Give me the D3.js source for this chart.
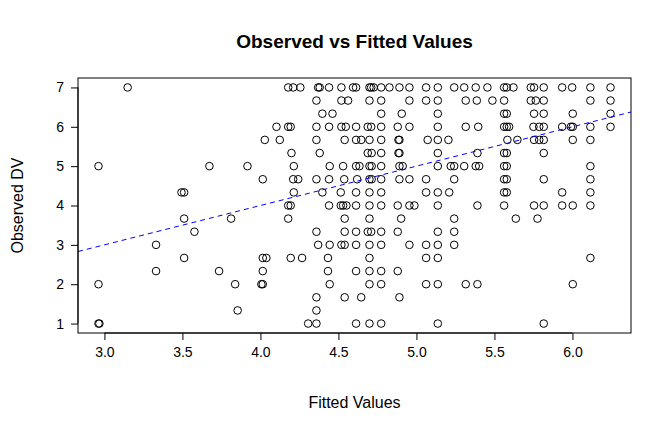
<!DOCTYPE html>
<html>
<head>
<meta charset="utf-8">
<script src="https://cdn.jsdelivr.net/npm/d3@7"></script>
<style>
  html, body { margin: 0; padding: 0; background: #fff; }
  svg { display: block; }
  text { font-family: "Liberation Sans", Arial, Helvetica, sans-serif; fill: #000; }
</style>
</head>
<body>
<script>
// ---------- data ----------
const title = "Observed vs Fitted Values";
const xLabel = "Fitted Values";
const yLabel = "Observed DV";
const xTicks = [3.0, 3.5, 4.0, 4.5, 5.0, 5.5, 6.0];
const yTicks = [1, 2, 3, 4, 5, 6, 7];
const refIntercept = 0;   // abline(0, 1)
const refSlope = 1;

// observed DV levels (thirds) and the fitted values of points at each level
const observedLevels = [7, 6.667, 6.333, 6, 5.667, 5.333, 5, 4.667, 4.333, 4, 3.667, 3.333, 3, 2.667, 2.333, 2, 1.667, 1.333, 1];
const fittedByLevel = [
  // 7
  [3.149, 4.178, 4.210, 4.256, 4.370, 4.380, 4.440, 4.519, 4.594, 4.613, 4.699, 4.710, 4.726, 4.774, 4.827, 4.891, 4.955, 5.062, 5.137, 5.242, 5.306, 5.380, 5.455, 5.562, 5.579, 5.622, 5.733, 5.754, 5.816, 5.934, 5.998, 6.115, 6.244],
  // 6.667
  [4.359, 4.519, 4.562, 4.699, 4.774, 4.955, 5.062, 5.137, 5.316, 5.387, 5.487, 5.562, 5.733, 5.765, 5.816, 6.115, 6.244],
  // 6.333
  [4.397, 4.462, 4.774, 4.906, 5.137, 5.562, 5.579, 5.754, 5.816, 6.002, 6.244],
  // 6
  [4.103, 4.178, 4.194, 4.359, 4.440, 4.519, 4.547, 4.613, 4.688, 4.710, 4.774, 4.880, 4.955, 5.137, 5.316, 5.396, 5.562, 5.579, 5.594, 5.750, 5.787, 5.816, 5.934, 5.990, 6.002, 6.115, 6.244],
  // 5.667
  [4.028, 4.124, 4.359, 4.540, 4.613, 4.646, 4.699, 4.774, 4.885, 4.891, 5.072, 5.137, 5.205, 5.583, 5.647, 5.754, 5.787, 5.816, 6.002, 6.115],
  // 5.333
  [4.199, 4.380, 4.688, 4.713, 4.774, 4.885, 4.891, 5.137, 5.391, 5.562, 5.579, 5.816],
  // 5
  [2.962, 3.673, 3.917, 4.214, 4.444, 4.530, 4.613, 4.635, 4.699, 4.713, 4.774, 4.891, 4.912, 5.137, 5.220, 5.242, 5.306, 5.380, 5.402, 5.562, 5.579, 6.115],
  // 4.667
  [4.015, 4.210, 4.242, 4.359, 4.440, 4.537, 4.620, 4.699, 4.713, 4.774, 4.891, 4.955, 5.062, 5.242, 5.562, 5.579, 5.816, 6.115],
  // 4.333
  [3.494, 3.511, 4.214, 4.397, 4.515, 4.613, 4.699, 4.774, 5.062, 5.137, 5.210, 5.562, 5.579, 5.934, 6.115],
  // 4
  [4.178, 4.194, 4.440, 4.515, 4.530, 4.551, 4.613, 4.699, 4.774, 4.880, 4.955, 4.987, 5.137, 5.391, 5.562, 5.754, 5.816, 5.934, 6.002, 6.115],
  // 3.667
  [3.511, 3.812, 4.178, 4.540, 4.699, 4.902, 5.242, 5.637, 5.776],
  // 3.333
  [3.577, 4.359, 4.540, 4.613, 4.688, 4.710, 4.774, 4.880, 5.137, 5.242],
  // 3
  [3.331, 4.370, 4.444, 4.519, 4.540, 4.613, 4.699, 4.774, 4.955, 5.062, 5.137, 5.242],
  // 2.667
  [3.511, 4.015, 4.038, 4.194, 4.267, 4.433, 4.699, 5.062, 5.137, 6.115],
  // 2.333
  [3.331, 3.735, 4.015, 4.433, 4.613, 4.699, 4.774, 4.880],
  // 2
  [2.962, 3.838, 4.006, 4.015, 4.444, 4.699, 4.774, 5.062, 5.137, 5.316, 5.391, 6.002],
  // 1.667
  [4.359, 4.540, 4.646, 4.891],
  // 1.333
  [3.854, 4.359],
  // 1
  [2.962, 2.968, 4.306, 4.359, 4.613, 4.699, 4.774, 5.137, 5.816]
];

// ---------- layout ----------
const W = 672, H = 432;
const plotL = 78, plotR = 631, plotT = 78, plotB = 333;
const FONT = "'Liberation Sans', Arial, Helvetica, sans-serif";

const points = [];
observedLevels.forEach((lv, i) => fittedByLevel[i].forEach(f => points.push({x: f, y: lv})));

const xExt = d3.extent(points, d => d.x);
const yExt = d3.extent(points, d => d.y);
const xPad = (xExt[1] - xExt[0]) * 0.04;
const yPad = (yExt[1] - yExt[0]) * 0.04;

const x = d3.scaleLinear().domain([xExt[0] - xPad, xExt[1] + xPad]).range([plotL, plotR]);
const y = d3.scaleLinear().domain([yExt[0] - yPad, yExt[1] + yPad]).range([plotB, plotT]);

const svg = d3.select("body").append("svg").attr("width", W).attr("height", H);

svg.append("defs").append("clipPath").attr("id", "clip")
  .append("rect").attr("x", plotL).attr("y", plotT).attr("width", plotR - plotL).attr("height", plotB - plotT);

// points
svg.append("g").selectAll("circle").data(points).join("circle")
  .attr("cx", d => x(d.x)).attr("cy", d => y(d.y)).attr("r", 3.8)
  .attr("fill", "none").attr("stroke", "#000").attr("stroke-width", 1);

// reference line
const xd = x.domain();
svg.append("line").attr("clip-path", "url(#clip)")
  .attr("x1", x(xd[0])).attr("y1", y(refIntercept + refSlope * xd[0]))
  .attr("x2", x(xd[1])).attr("y2", y(refIntercept + refSlope * xd[1]))
  .attr("stroke", "#0000ff").attr("stroke-width", 1).attr("stroke-dasharray", "5,4");

// box
svg.append("rect").attr("x", plotL).attr("y", plotT).attr("width", plotR - plotL).attr("height", plotB - plotT)
  .attr("fill", "none").attr("stroke", "#000").attr("stroke-width", 1);

// axes
const xAxis = d3.axisBottom(x).tickValues(xTicks).tickFormat(d3.format(".1f")).tickSize(7).tickPadding(7);
const gx = svg.append("g").attr("transform", `translate(0,${plotB})`).call(xAxis);
gx.select(".domain").attr("d", `M${x(xTicks[0])},0H${x(xTicks[xTicks.length - 1])}`);
gx.selectAll("text").style("font-size", "14px").style("font-family", FONT).attr("fill", "#000");

const yAxis = d3.axisLeft(y).tickValues(yTicks).tickFormat(d3.format("d")).tickSize(7).tickPadding(7);
const gy = svg.append("g").attr("transform", `translate(${plotL},0)`).call(yAxis);
gy.select(".domain").attr("d", `M0,${y(yTicks[0])}V${y(yTicks[yTicks.length - 1])}`);
gy.selectAll("text").style("font-size", "14px").style("font-family", FONT).attr("fill", "#000");

// titles
svg.append("text").attr("x", (plotL + plotR) / 2).attr("y", 48).attr("text-anchor", "middle")
  .style("font-size", "19px").style("font-weight", "bold").text(title);
svg.append("text").attr("x", (plotL + plotR) / 2).attr("y", 408).attr("text-anchor", "middle")
  .style("font-size", "16px").text(xLabel);
svg.append("text").attr("transform", `translate(23,${(plotT + plotB) / 2}) rotate(-90)`).attr("text-anchor", "middle")
  .style("font-size", "16px").text(yLabel);
</script>
</body>
</html>
